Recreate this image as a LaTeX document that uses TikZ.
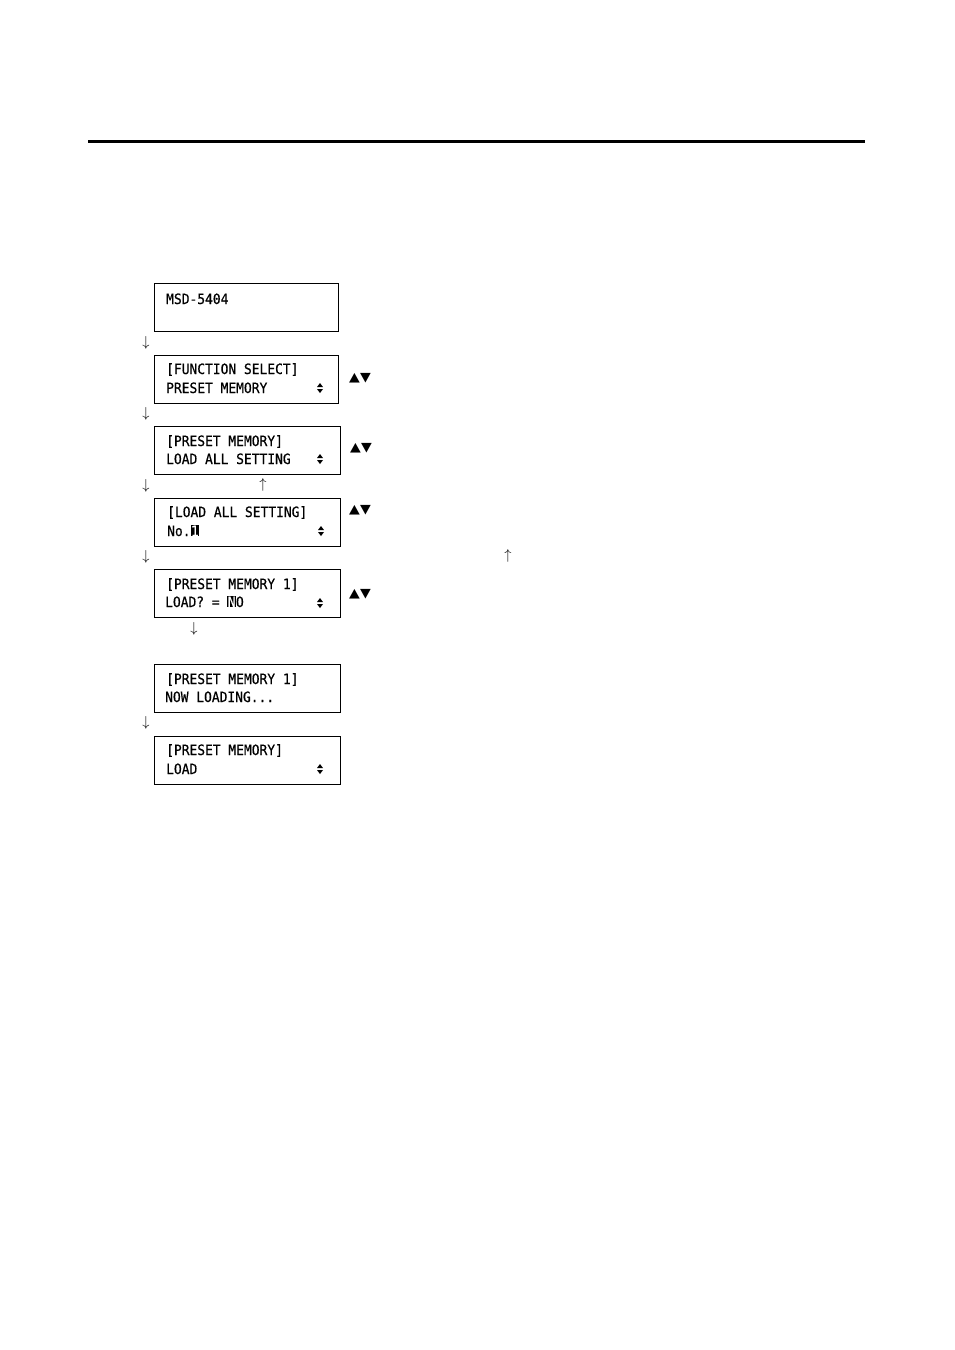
\documentclass[tikz,border=0pt]{standalone}
\usepackage{fontspec}
\newfontfamily\lcdfont[FakeStretch=0.91,FakeBold=0.6]{DejaVu Sans Mono}
\newfontfamily\symfont{DejaVu Sans}
\begin{document}
\begin{tikzpicture}[x=1pt,y=-1pt,
  lcd/.style={draw, line width=0.9pt, rectangle, anchor=north west, inner sep=0pt, minimum height=48pt},
  lcdtext/.style={anchor=base west, inner sep=0pt, font=\lcdfont\fontsize{14.2pt}{15pt}\selectfont},
  keys/.style={inner sep=0pt, font=\symfont\fontsize{14pt}{15pt}\selectfont},
  arr/.style={inner sep=0pt, font=\fontsize{15pt}{16pt}\selectfont},
  updown/.pic={\fill (-3,-1) -- (3,-1) -- (0,-5) -- cycle; \fill (-3,1) -- (3,1) -- (0,5) -- cycle;}
]
\newcommand{\hl}[1]{{\setlength{\fboxsep}{0.4pt}\colorbox{black}{\textcolor{white}{#1}}}}
\useasboundingbox (0,0) rectangle (954,1350);
\fill (88,139.5) rectangle (865,142.5);

% boxes
\node[lcd, minimum width=184pt] (b1) at (154,283) {};
\node[lcd, minimum width=184pt] (b2) at (154,355) {};
\node[lcd, minimum width=186pt] (b3) at (154,426) {};
\node[lcd, minimum width=186pt] (b4) at (154,498) {};
\node[lcd, minimum width=186pt] (b5) at (154,569) {};
\node[lcd, minimum width=186pt] (b6) at (154,664) {};
\node[lcd, minimum width=186pt] (b7) at (154,736) {};

% texts
\node[lcdtext] (t1) at (166,304) {MSD-5404};
\node[lcdtext] (t2a) at (166,374) {[FUNCTION SELECT]};
\node[lcdtext] (t2b) at (166,393) {PRESET MEMORY};
\node[lcdtext] (t3a) at (166,446) {[PRESET MEMORY]};
\node[lcdtext] (t3b) at (166,464) {LOAD ALL SETTING};
\node[lcdtext] (t4a) at (167,517) {[LOAD ALL SETTING]};
\node[lcdtext] (t4b) at (167,536) {No.\hl{1}};
\node[lcdtext] (t5a) at (166,589) {[PRESET MEMORY 1]};
\node[lcdtext] (t5b) at (165,607) {LOAD? = \hl{N}O};
\node[lcdtext] (t6a) at (166,684) {[PRESET MEMORY 1]};
\node[lcdtext] (t6b) at (165,702) {NOW LOADING...};
\node[lcdtext] (t7a) at (166,755) {[PRESET MEMORY]};
\node[lcdtext] (t7b) at (166,774) {LOAD};

% up/down indicators
\pic at (320,388) {updown};
\pic at (320,459) {updown};
\pic at (321,531) {updown};
\pic at (320,603) {updown};
\pic at (320,769) {updown};

% key symbols
\node[keys] (k2) at (360,378) {\scalebox{1}[0.9]{▲▼}};
\node[keys] (k3) at (361,448) {\scalebox{1}[0.9]{▲▼}};
\node[keys] (k4) at (360,510) {\scalebox{1}[0.9]{▲▼}};
\node[keys] (k5) at (360,594) {\scalebox{1}[0.9]{▲▼}};

% arrows
\node[arr] (a1) at (146,343) {$\downarrow$};
\node[arr] (a2) at (146,414) {$\downarrow$};
\node[arr] (a3) at (146,486) {$\downarrow$};
\node[arr] (a4) at (263,485) {$\uparrow$};
\node[arr] (a5) at (146,557) {$\downarrow$};
\node[arr] (a6) at (508,556) {$\uparrow$};
\node[arr] (a7) at (194,629) {$\downarrow$};
\node[arr] (a8) at (146,723) {$\downarrow$};
\end{tikzpicture}
\end{document}
